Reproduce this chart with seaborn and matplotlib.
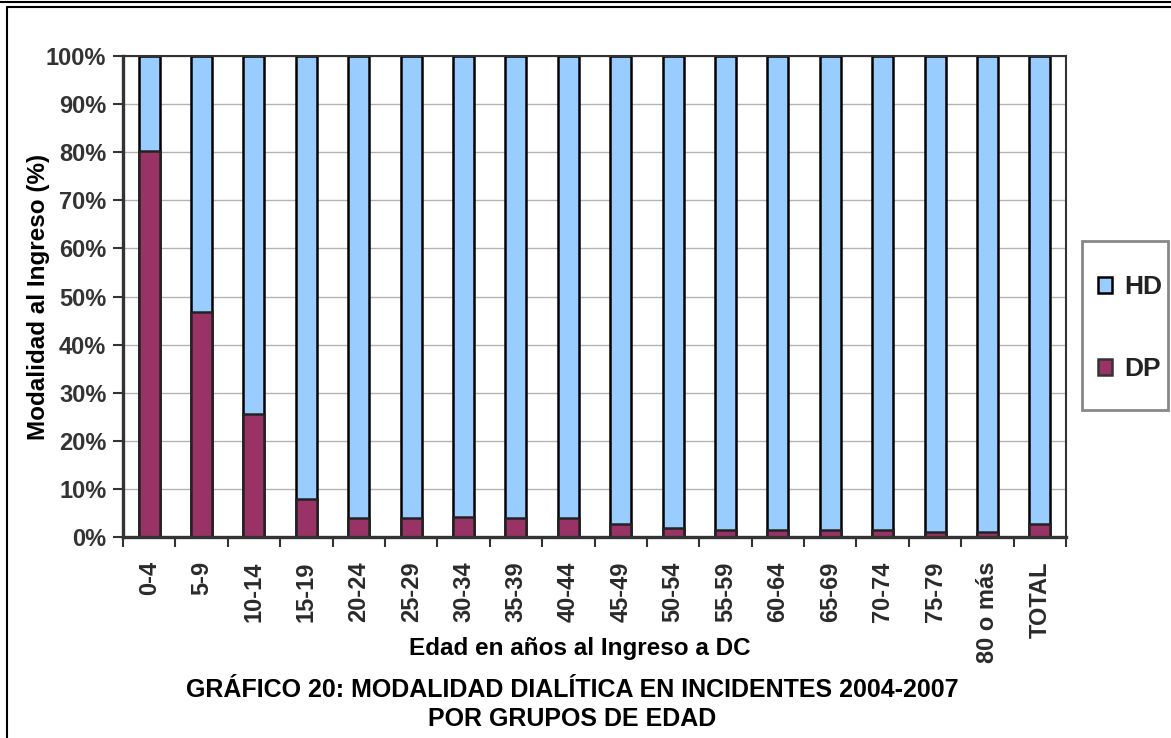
import numpy as np
import pandas as pd
import matplotlib
matplotlib.use("Agg")
import matplotlib.pyplot as plt
import seaborn as sns
from matplotlib.patches import Patch, Rectangle
from matplotlib.lines import Line2D

categories = ["0-4", "5-9", "10-14", "15-19", "20-24", "25-29", "30-34", "35-39",
              "40-44", "45-49", "50-54", "55-59", "60-64", "65-69", "70-74", "75-79",
              "80 o más", "TOTAL"]
dp_values = [80.3, 46.8, 25.5, 7.8, 3.9, 3.9, 4.2, 3.9, 3.9, 2.6, 1.9, 1.5, 1.5, 1.5,
             1.5, 1.1, 1.1, 2.6]
hd_values = [100 - v for v in dp_values]
y_ticks = [0, 10, 20, 30, 40, 50, 60, 70, 80, 90, 100]
y_tick_labels = [f"{t}%" for t in y_ticks]

HD_COLOR = "#99CCFF"
DP_COLOR = "#993366"

sns.set_theme(style="white")
plt.rcParams['font.family'] = ['Liberation Sans', 'DejaVu Sans']

df = pd.DataFrame({"cat": categories, "DP": dp_values, "HD": hd_values})
df["total"] = df["DP"] + df["HD"]

fig = plt.figure(figsize=(11.71, 7.38), dpi=100)
W, H = 1171, 738
ax = fig.add_axes([123 / W, (H - 537) / H, (1066 - 123) / W, (537 - 56) / H])

sns.barplot(data=df, x="cat", y="total", color=HD_COLOR, width=0.4, ax=ax,
            edgecolor="black", linewidth=1.8, saturation=1)
sns.barplot(data=df, x="cat", y="DP", color=DP_COLOR, width=0.4, ax=ax,
            edgecolor="#222222", linewidth=1.8, saturation=1)

n = len(categories)
ax.set_xlim(-0.5, n - 0.5)
ax.set_ylim(0, 100)
ax.set_yticks(y_ticks)
ax.set_yticklabels(y_tick_labels, fontsize=17, fontweight="bold", color="#333333")
ax.yaxis.grid(True, color="#b4b4b4", linewidth=1.0)
ax.set_axisbelow(True)

ax.set_xticks(np.arange(-0.5, n, 1))
ax.set_xticklabels([""] * (n + 1))
ax.set_xticks(np.arange(n), minor=True)
ax.set_xticklabels(categories, minor=True, rotation=90, fontsize=17,
                   fontweight="bold", color="#2a2a2a")
ax.tick_params(axis="x", which="major", length=7, width=1.5, color="#333333", direction="out", bottom=True)
ax.tick_params(axis="x", which="minor", length=0, pad=17.5)
ax.tick_params(axis="y", length=7, width=1.5, color="#333333", direction="out", left=True, pad=5)

for s in ["top", "right"]:
    ax.spines[s].set_color("#333333")
    ax.spines[s].set_linewidth(1.5)
for s in ["left", "bottom"]:
    ax.spines[s].set_color("#333333")
    ax.spines[s].set_linewidth(2.4)

ax.set_xlabel("")
ax.set_ylabel("Modalidad al Ingreso (%)", fontsize=17.5, fontweight="bold", color="black")
ax.yaxis.set_label_coords((50 - 123) / (1066 - 123), 0.5)

fig.text(580 / W, 1 - 648 / H, "Edad en años al Ingreso a DC", ha="center", va="center",
         fontsize=17.5, fontweight="bold", color="black")
fig.text(572 / W, 1 - 690 / H, "GRÁFICO 20: MODALIDAD DIALÍTICA EN INCIDENTES 2004-2007",
         ha="center", va="center", fontsize=18, fontweight="bold", color="black")
fig.text(572 / W, 1 - 719 / H, "POR GRUPOS DE EDAD", ha="center", va="center",
         fontsize=18, fontweight="bold", color="black")

# legend box
fig.add_artist(Rectangle((1082 / W, 1 - 410 / H), 86 / W, 169 / H, transform=fig.transFigure,
                         facecolor="white", edgecolor="#888888", linewidth=2))
handles = [Patch(facecolor=HD_COLOR, edgecolor="black", linewidth=1.8, label="HD"),
           Patch(facecolor=DP_COLOR, edgecolor="#333333", linewidth=1.8, label="DP")]
leg = fig.legend(handles=handles, loc="center", bbox_to_anchor=(1130 / W, 1 - 328 / H),
                 frameon=False, labelspacing=2.2, handlelength=0.55,
                 handleheight=0.55, handletextpad=0.45, borderpad=0,
                 prop={"weight": "bold", "size": 19}, borderaxespad=0)
for t in leg.get_texts():
    t.set_color("#222222")

# outer frame lines
fig.add_artist(Line2D([0, 1], [1 - 2 / H, 1 - 2 / H], transform=fig.transFigure, color="black", linewidth=1.5))
fig.add_artist(Line2D([7 / W, 1], [1 - 7 / H, 1 - 7 / H], transform=fig.transFigure, color="black", linewidth=1.5))
fig.add_artist(Line2D([7 / W, 7 / W], [0, 1 - 7 / H], transform=fig.transFigure, color="black", linewidth=1.5))

fig.savefig("out.png", dpi=100, facecolor="white")
